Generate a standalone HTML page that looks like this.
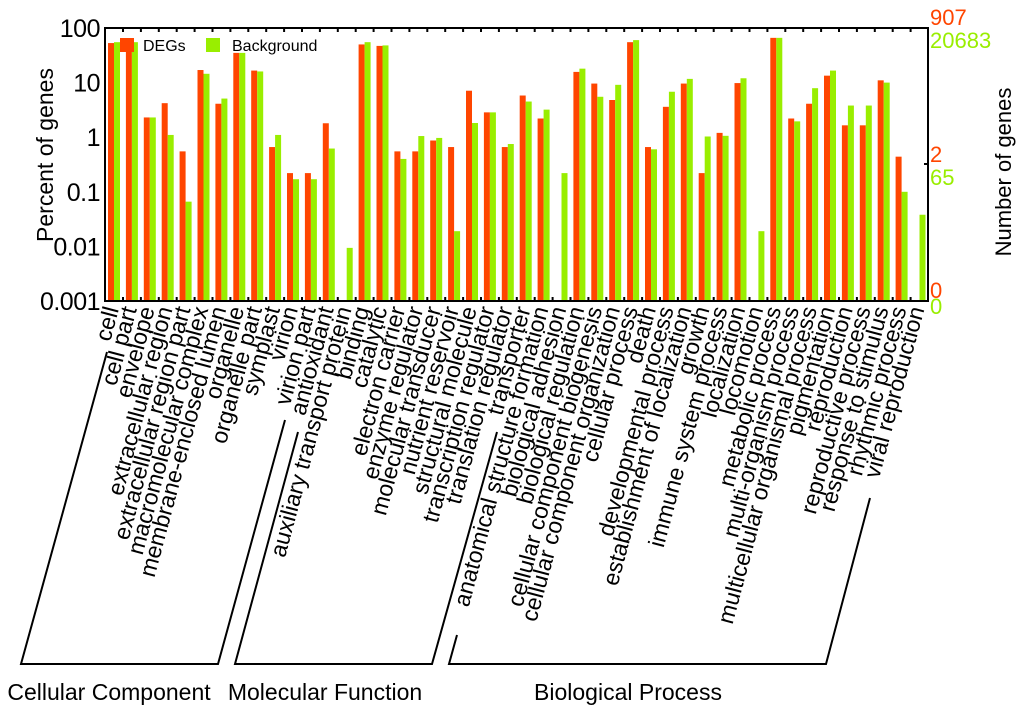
<!DOCTYPE html>
<html><head><meta charset="utf-8"><style>
html,body{margin:0;padding:0;background:#fff}
svg{display:block;font-family:"Liberation Sans",Arial,sans-serif}
</style></head><body>
<svg id="chart" width="1024" height="716" viewBox="0 0 1024 716">
<rect x="0" y="0" width="1024" height="716" fill="#fff"/>
<g id="bars"></g>
<g id="xlabels"></g>
<rect x="105" y="28" width="823" height="273" fill="none" stroke="#000" stroke-width="2"/>
<g id="ticks"></g>
<g id="yticks" font-size="25" text-anchor="end" letter-spacing="-0.5"></g>
<text transform="translate(53,155) rotate(-90)" text-anchor="middle" font-size="23">Percent of genes</text>
<text transform="translate(1011,172) rotate(-90)" text-anchor="middle" font-size="22">Number of genes</text>
<g font-size="22">
<text x="930" y="25" fill="#ff4500">907</text>
<text x="930" y="48" fill="#99ee00">20683</text>
<text x="930" y="162" fill="#ff4500">2</text>
<text x="930" y="185" fill="#99ee00">65</text>
<text x="930" y="298" fill="#ff4500">0</text>
<text x="930" y="314" fill="#99ee00">0</text>
</g>
<line x1="924" y1="164" x2="928" y2="164" stroke="#000" stroke-width="2"/>
<g font-size="16">
<rect x="120" y="38" width="14" height="14" fill="#ff4500"/>
<text x="143" y="51">DEGs</text>
<rect x="206" y="38" width="14" height="14" fill="#99ee00"/>
<text x="232" y="51">Background</text>
</g>
<g fill="none" stroke="#000" stroke-width="2">
<polyline points="107,352 21,664 218,664 285,420"/>
<polyline points="298,432 235,664 432,664 497,432"/>
<polyline points="457,635 449,664 826,664 870,498"/>
</g>
<g font-size="23" text-anchor="middle">
<text x="109" y="700">Cellular Component</text>
<text x="325" y="700">Molecular Function</text>
<text x="628" y="700">Biological Process</text>
</g>
</svg>
<script>
const categories = ["cell","cell part","envelope","extracellular region","extracellular region part","macromolecular complex","membrane-enclosed lumen","organelle","organelle part","symplast","virion","virion part","antioxidant","auxiliary transport protein","binding","catalytic","electron carrier","enzyme regulator","molecular transducer","nutrient reservoir","structural molecule","transcription regulator","translation regulator","transporter","anatomical structure formation","biological adhesion","biological regulation","cellular component biogenesis","cellular component organization","cellular process","death","developmental process","establishment of localization","growth","immune system process","localization","locomotion","metabolic process","multi-organism process","multicellular organismal process","pigmentation","reproduction","reproductive process","response to stimulus","rhythmic process","viral reproduction"];
const degValues = [53,55,2.3,4.2,0.55,17,4.1,35,16.6,0.66,0.22,0.22,1.8,0,50,47,0.55,0.55,0.87,0.66,7.1,2.85,0.66,5.8,2.2,0,15.7,9.6,4.8,55,0.66,3.6,9.6,0.22,1.2,9.8,0,66,2.2,4.1,13.4,1.65,1.65,11,0.44,0];
const bgValues = [55,55,2.3,1.1,0.066,14.5,5.1,35,16,1.1,0.17,0.17,0.62,0.0094,55,48,0.40,1.05,0.97,0.019,1.82,2.85,0.75,4.5,3.2,0.22,18,5.5,9.1,60,0.6,6.8,11.7,1.03,1.06,12,0.019,66,1.95,7.9,16.6,3.8,3.8,10,0.1,0.038];
const yTickLabels = ["100","10","1","0.1","0.01","0.001"];
const yTickValues = [100,10,1,0.1,0.01,0.001];

const NS = "http://www.w3.org/2000/svg";
const yTop = 28, yBot = 301, logMin = -3, logMax = 2;
function yScale(v){ return yBot - (Math.log10(v) - logMin) / (logMax - logMin) * (yBot - yTop); }
function xScale(i){ return 114 + i * 17.9; }

const bars = document.getElementById('bars');
const xl = document.getElementById('xlabels');
const ticks = document.getElementById('ticks');
categories.forEach((c, i) => {
  const cx = xScale(i);
  [[degValues[i], cx - 6, '#ff4500', 'deg'], [bgValues[i], cx, '#99ee00', 'background']].forEach(([v, x, col, kind]) => {
    if (!(v > 0)) return;
    const y = Math.max(yTop, yScale(v));
    const r = document.createElementNS(NS, 'rect');
    r.setAttribute('x', x); r.setAttribute('y', y);
    r.setAttribute('width', 6); r.setAttribute('height', yBot - y);
    r.setAttribute('fill', col);
    
    
    bars.appendChild(r);
  });
  const t = document.createElementNS(NS, 'text');
  t.setAttribute('transform', 'translate(' + (cx + 5) + ',309) rotate(-75)');
  t.setAttribute('text-anchor', 'end');
  t.setAttribute('font-size', '23');
  t.textContent = c;
  
  
  xl.appendChild(t);
  const tx = cx + 9;
  if (i < categories.length - 1) {
    [[yTop, yTop + 4], [yBot, yBot - 4]].forEach(([a, b]) => {
      const l = document.createElementNS(NS, 'line');
      l.setAttribute('x1', tx); l.setAttribute('x2', tx);
      l.setAttribute('y1', a); l.setAttribute('y2', b);
      l.setAttribute('stroke', '#000'); l.setAttribute('stroke-width', '2');
      
      
      ticks.appendChild(l);
    });
  }
});
const yt = document.getElementById('yticks');
yTickValues.forEach((v, i) => {
  const y = yScale(v);
  const t = document.createElementNS(NS, 'text');
  t.setAttribute('x', 100); t.setAttribute('y', y + 9);
  t.textContent = yTickLabels[i];
  
  
  yt.appendChild(t);
});
</script>
</body></html>
